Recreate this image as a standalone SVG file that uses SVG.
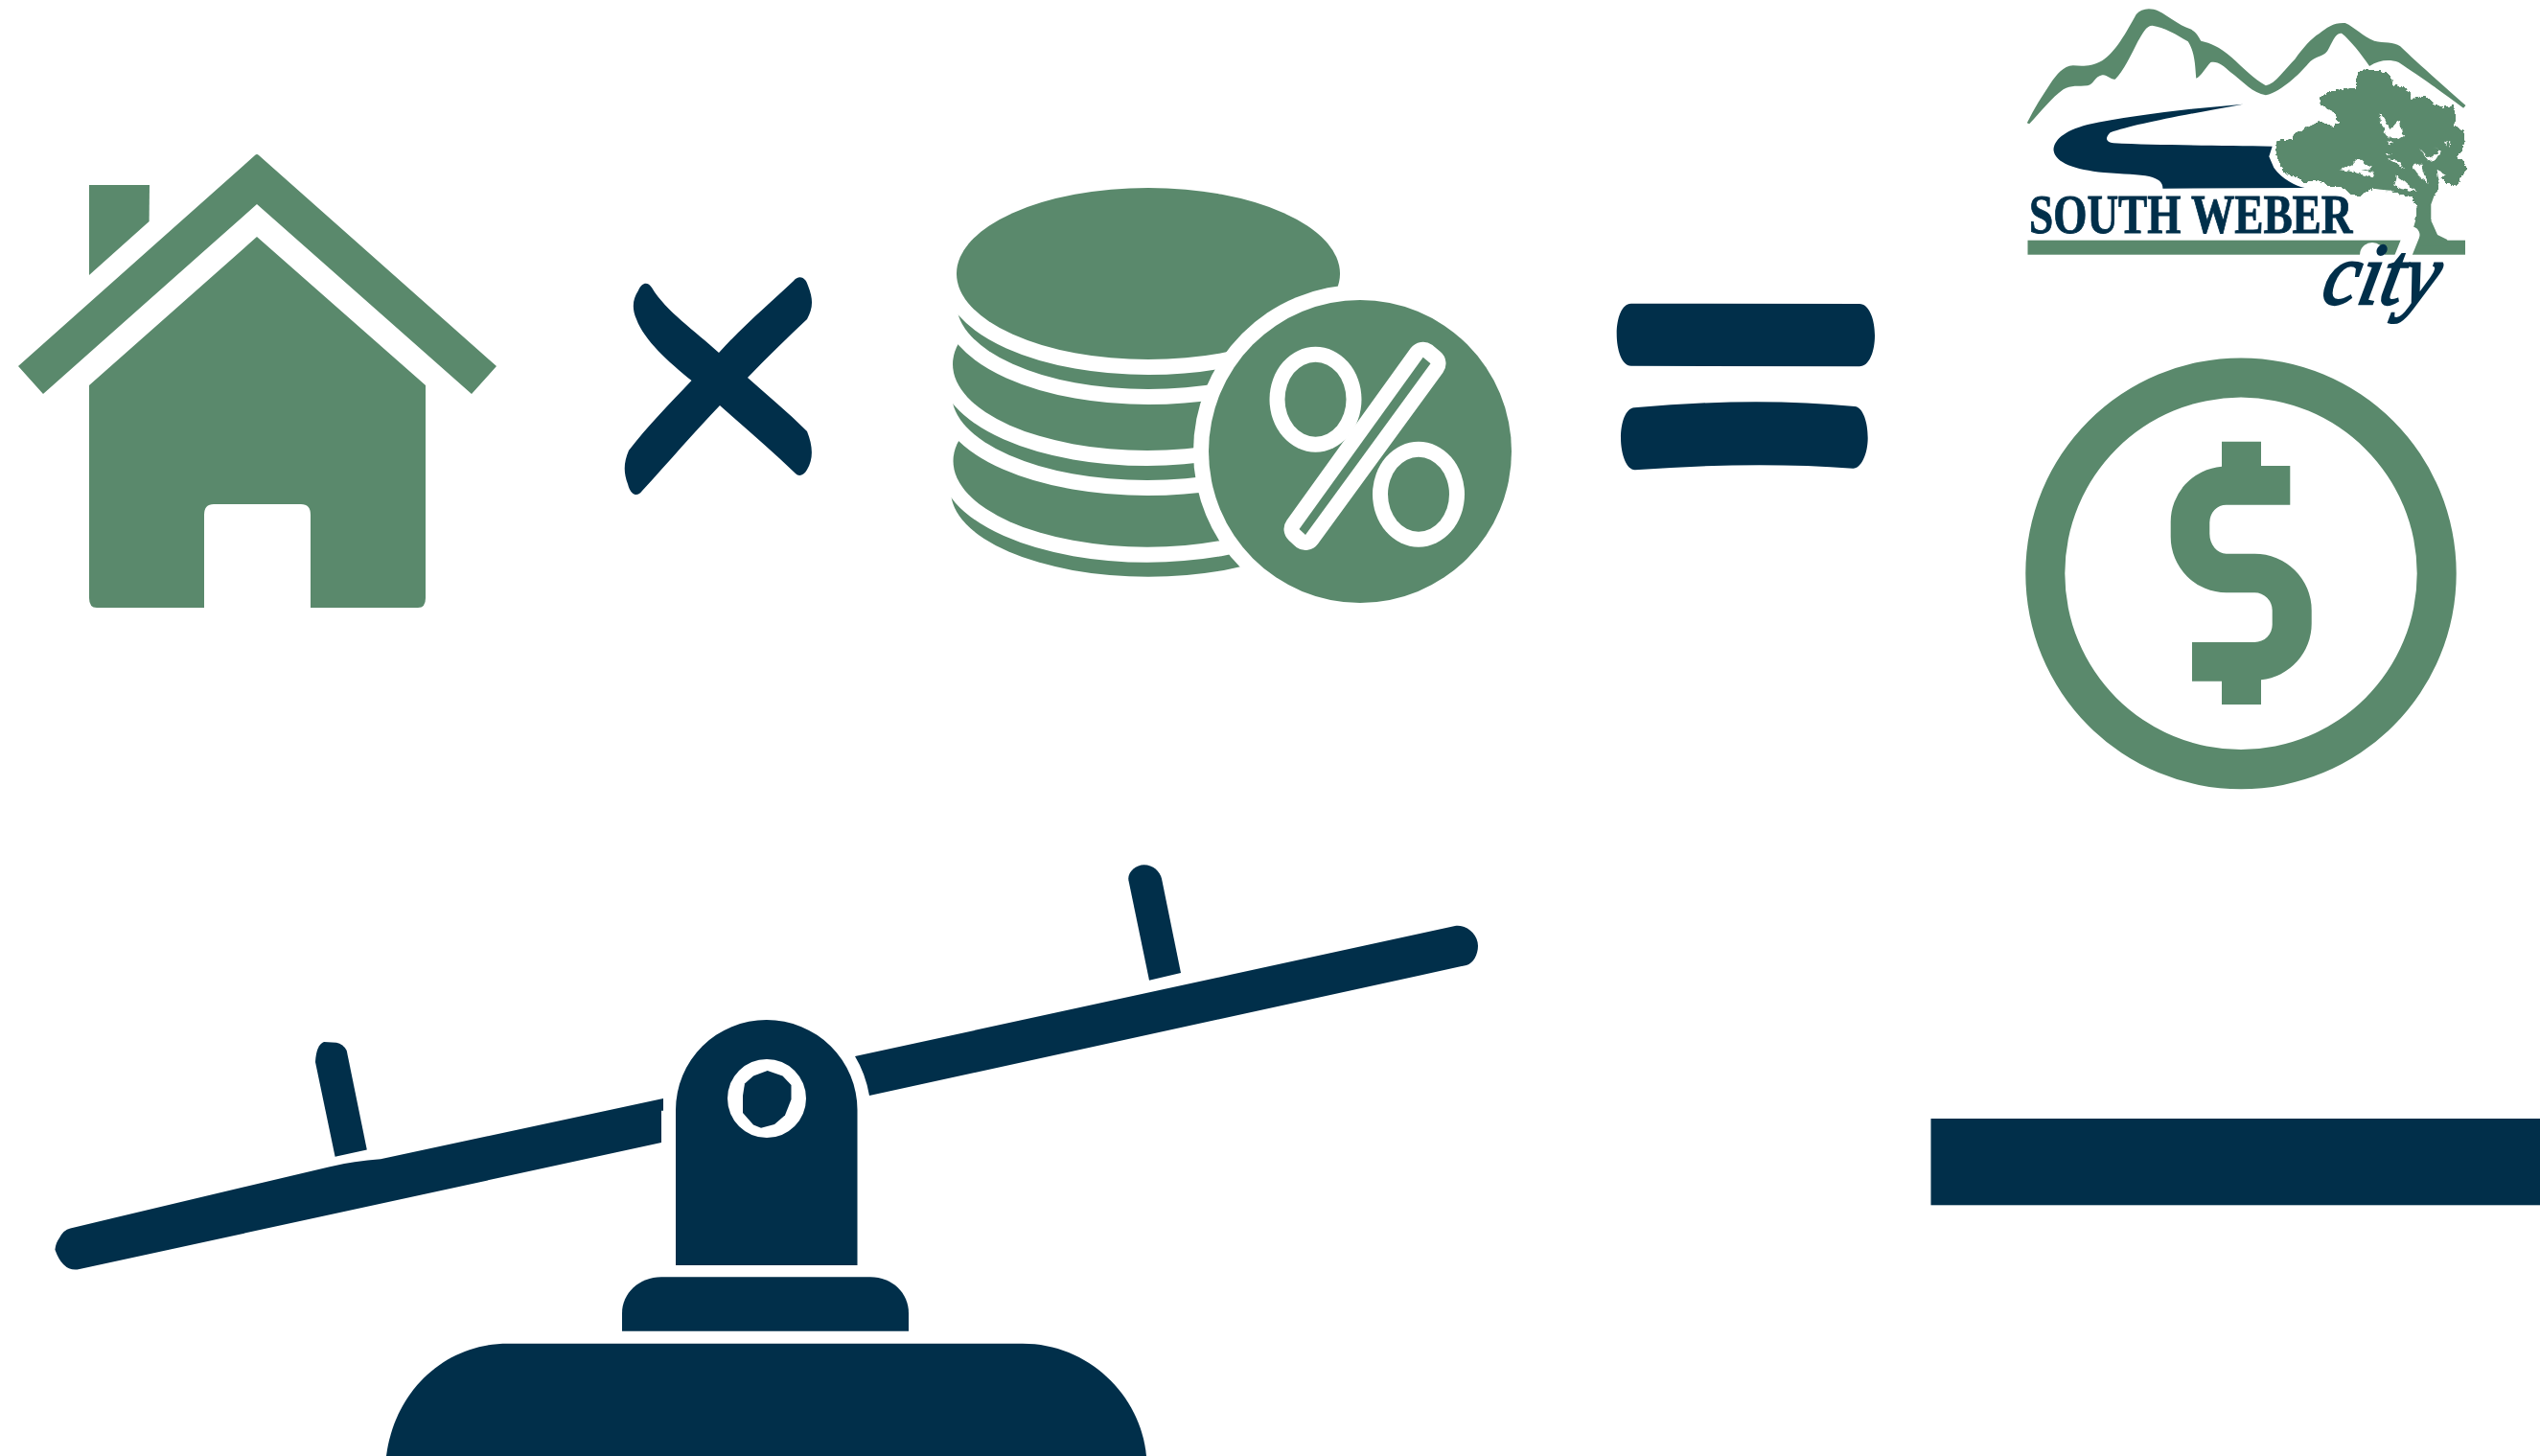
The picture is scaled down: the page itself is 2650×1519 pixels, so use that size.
<svg xmlns="http://www.w3.org/2000/svg" width="2650" height="1519" viewBox="0 0 2650 1519">
<style>
.g{fill:#5a896c}
.n{fill:#012f4a}
.w{fill:#fff}
.halo{fill:#fff;stroke:#fff;stroke-width:32}
.lz1{transform:translate(2080px,0) scale(.338,.3333)}
.lz9{transform:translate(2360px,60px) scale(.3333)}
</style>
<defs>
<filter id="leafy" x="-5%" y="-5%" width="110%" height="110%" color-interpolation-filters="sRGB">
<feTurbulence type="fractalNoise" baseFrequency=".07" numOctaves="2" seed="4" result="t"/>
<feDisplacementMap in="SourceGraphic" in2="t" scale="14" xChannelSelector="R" yChannelSelector="G"/>
<feGaussianBlur stdDeviation="2"/>
<feComponentTransfer><feFuncA type="linear" slope="5" intercept="-2"/></feComponentTransfer>
</filter>
</defs>
<rect width="2650" height="1519" fill="#fff"/>
<g id="house" class="g">
<path d="M266,162 Q268,160 270,162 L518,382 L492,411 L268,213 L45,411 L19,382 Z"/>
<path d="M93,193 H156 L155.600,231 L93,287 Z"/>
<path d="M268,247 L444,402 V624 Q444,634 436,634 H324 V537 Q324,526 314,526 H223 Q213,526 213,537 V634 H101 Q93,634 93,624 V402 Z"/>
</g>
<g id="times" class="n">
<path d="M680,300 C695,325 725,345 750,368 C775,340 805,315 828,293 C833,287 840,288 843,298 C849,313 848,322 842,333 C822,352 800,373 780,394 C800,412 822,430 842,450 C848,465 849,478 842,490 C838,497 833,497 830,494 C805,470 778,447 751,423 C725,450 695,485 670,512 C665,519 658,517 655,505 C650,492 651,482 656,470 C675,445 700,420 721.500,397 C698,378 672,355 664,333 C659,322 660,312 666,303 C670,294 676,294 680,300 Z"/>
</g>
<g id="coins">
<ellipse class="g" cx="1198" cy="512.200" rx="206" ry="89.500"/>
<ellipse class="halo" cx="1197" cy="481" rx="202.500" ry="89.700"/>
<ellipse class="g" cx="1197" cy="481" rx="202.500" ry="89.700"/>
<ellipse class="halo" cx="1197" cy="411.500" rx="204" ry="89.500"/>
<ellipse class="g" cx="1197" cy="411.500" rx="204" ry="89.500"/>
<ellipse class="halo" cx="1197" cy="380" rx="203" ry="90"/>
<ellipse class="g" cx="1197" cy="380" rx="203" ry="90"/>
<ellipse class="halo" cx="1198" cy="316.500" rx="200" ry="89.500"/>
<ellipse class="g" cx="1198" cy="316.500" rx="200" ry="89.500"/>
<ellipse class="halo" cx="1198" cy="285.500" rx="200" ry="89.500"/>
<ellipse class="g" cx="1198" cy="285.500" rx="200" ry="89.500"/>
<circle class="w" cx="1419" cy="471" r="174"/>
<circle class="g" cx="1419" cy="471" r="158"/>
<path d="M1484.700,372.700 L1492.500,379.300 L1362,558 L1355.500,552 Z" fill="#fff" stroke="#fff" stroke-width="32" stroke-linejoin="round"/>
<ellipse class="w" cx="1372.500" cy="416.700" rx="48" ry="55"/>
<ellipse class="g" cx="1372.500" cy="416.700" rx="32" ry="39"/>
<ellipse class="w" cx="1480" cy="515.700" rx="48" ry="55"/>
<ellipse class="g" cx="1480" cy="515.700" rx="32" ry="39"/>
<path class="g" d="M1484.700,372.700 L1492.500,379.300 L1362,558 L1355.500,552 Z"/>
</g>
<g id="equals" class="n">
<path d="M1701.700,316.700 L1940,317 C1950,317 1956,333 1956,350 C1956,367 1950,382.300 1940,382.300 L1701.700,381.700 C1692,381.700 1686.700,365 1686.700,348 C1686.700,332 1692,316.700 1701.700,316.700 Z"/>
<path d="M1705,425.300 Q1830,414 1935,424 C1944,425 1948.700,441 1948.700,456.700 C1948.700,473 1942,488.700 1933.300,488.700 Q1830,481 1705.700,490.300 C1697,490 1691,474 1691,456.700 C1691,441 1696,426 1705,425.300 Z"/>
</g>
<g id="logo">
<path class="n lz1" d="M770,326 C600,340 420,362 290,390 C215,410 185,440 185,470 C190,510 250,530 340,540 C400,545 450,545 480,552 C510,560 522,570 522,590 L960,588 C930,582 890,560 865,525 L850,490 L860,458 C700,455 500,455 370,448 C350,445 340,435 360,415 C430,390 560,365 770,326 Z"/>
<g class="lz9" filter="url(#leafy)">
<path fill="#fff" stroke="#fff" stroke-width="20" stroke-linejoin="round" d="M300,50 L320,36 350,40 385,45 405,60 408,85 440,92 465,110 470,130 510,120 540,145 565,155 600,150 605,180 600,215 630,225 635,260 625,295 608,318 630,320 640,350 620,375 615,395 595,402 570,385 560,375 548,390 550,420 530,435 520,470 530,510 480,510 485,465 470,435 440,430 400,420 350,410 330,420 305,432 280,430 250,405 215,405 180,385 130,390 110,375 70,360 60,340 50,320 42,290 50,260 95,255 100,235 125,230 130,225 180,200 220,215 240,205 225,170 185,150 180,125 205,110 245,100 295,95 295,70 Z"/>
</g>
<path class="g lz1" d="M103,385 C125,340 150,300 175,262 C195,232 215,207 245,205 C270,207 300,210 335,190 C375,165 410,100 440,45 C455,28 480,22 510,35 C540,50 570,78 605,90 C625,98 632,115 640,128 C670,135 695,145 735,180 C770,212 805,248 840,268 C870,262 900,215 930,185 C955,150 980,120 1005,105 C1030,85 1050,70 1085,72 C1115,85 1140,115 1175,128 C1205,135 1235,130 1255,145 C1300,190 1380,260 1457,330 L1450,338 C1390,292 1310,235 1250,195 C1220,185 1190,188 1160,207 C1135,170 1100,125 1075,105 C1055,100 1045,135 1030,160 C1015,180 990,175 970,200 C945,230 890,285 840,298 C800,292 770,255 730,225 C710,205 690,190 670,195 C655,210 640,240 625,245 C622,210 622,165 600,130 C565,108 525,85 490,80 C470,80 460,105 445,130 C425,170 400,225 375,248 C360,250 350,232 335,235 C310,240 310,265 290,268 C260,272 240,265 215,280 C180,305 145,350 110,388 Z"/>
<rect class="g" x="2115.500" y="250.700" width="456.500" height="15"/>
<path class="g lz1" d="M1310,620 L1305,680 1285,750 1285,770 1400,770 1400,750 1370,735 1350,690 1350,640 1375,570 1300,570 Z"/>
<g class="lz9" filter="url(#leafy)">
<path class="g" d="M300,50 L320,36 350,40 385,45 405,60 408,85 440,92 465,110 470,130 510,120 540,145 565,155 600,150 605,180 600,215 630,225 635,260 625,295 608,318 630,320 640,350 620,375 615,395 595,402 570,385 560,375 548,390 550,420 530,435 520,470 530,510 480,510 485,465 470,435 440,430 400,420 350,410 330,420 305,432 280,430 250,405 215,405 180,385 130,390 110,375 70,360 60,340 50,320 42,290 50,260 95,255 100,235 125,230 130,225 180,200 220,215 240,205 225,170 185,150 180,125 205,110 245,100 295,95 295,70 Z"/>
<path class="w" d="M368,172 L385,195 400,225 425,200 432,198 438,240 445,245 430,255 400,250 380,235 385,222 372,205 Z M388,262 L415,265 400,272 Z M390,300 L405,305 392,310 Z M392,315 L425,320 445,350 420,330 Z M470,345 L480,332 498,332 518,392 490,370 Z M492,285 L520,315 545,305 555,290 540,280 560,295 545,320 520,325 Z M570,260 L578,262 578,278 Z M585,262 L592,262 590,280 Z M240,352 L280,335 295,320 310,320 325,335 345,340 330,350 310,352 350,358 345,375 310,365 270,355 Z M548,350 L575,365 555,385 550,365 Z M420,368 L485,420 430,410 412,400 Z M355,412 L420,418 380,420 Z"/>
</g>
<path fill="none" stroke="#fff" stroke-width="17" stroke-linecap="round" d="M2516,245 L2498,290"/>
<circle class="w" cx="2475" cy="266" r="13"/>
<text x="2117" y="243.300" font-family="'Liberation Serif',serif" font-weight="700" font-size="56" textLength="337.500" lengthAdjust="spacingAndGlyphs" class="n" stroke="#012f4a" stroke-width=".9">SOUTH WEBER</text>
<text transform="translate(2420 317) skewX(-12)" font-family="'Liberation Serif',serif" font-style="italic" font-size="92" textLength="120" lengthAdjust="spacingAndGlyphs" class="n" stroke="#012f4a" stroke-width="2.500">city</text>
</g>
<g id="dollar" class="g">
<path fill-rule="evenodd" d="M2113.300,598.300 A224.700,224.700 0 1 1 2562.700,598.300 A224.700,224.700 0 1 1 2113.300,598.300 Z M2154.300,598.300 A183.700,183.700 0 1 0 2521.700,598.300 A183.700,183.700 0 1 0 2154.300,598.300 Z"/>
<path d="M2318,460.700 H2359 V486 H2389.300 V526.700 H2322.700 A17.400,18.300 0 0 0 2305.300,545 V556.700 A17.400,21 0 0 0 2322.700,577.700 H2352.300 A59.400,59 0 0 1 2411.700,636.700 V650.700 A59,59 0 0 1 2359,709.300 V735 H2318 V710.700 H2287 V670 H2352.300 A18.400,18.300 0 0 0 2370.700,651.700 V636.700 A18.400,18.400 0 0 0 2352.300,618.300 H2322.700 A58,58.300 0 0 1 2264.700,560 V545 A58,58 0 0 1 2318,486.700 Z"/>
</g>
<g id="seesaw" class="n">
<path d="M892,1102 L1518,966 C1530,964 1542,975 1542,986.700 C1542,996 1537,1005 1530,1007 L907,1143 Q903,1120 892,1102 Z"/>
<path d="M1177.400,918.300 C1176,910 1185,902.300 1193.500,902.300 C1203,902.300 1210,909 1212,916.700 L1232,1015 L1199,1022.700 Z"/>
<path d="M692,1146 L692,1158.700 L690,1158.700 L690,1192 L83,1324 Q66,1328 57.400,1303.800 Q58,1297 62,1291.600 Q66,1283 73.400,1281.400 L343,1217.400 Q370,1211 397,1209.300 Z"/>
<path d="M349.600,1206.800 L382.800,1199.500 L361.700,1096 Q358,1089 351,1087.800 L338,1087 Q330,1090 329,1108 Z"/>
<path fill-rule="evenodd" d="M705,1320 V1158 A94.750,94 0 0 1 894.500,1158 V1320 Z"/>
<ellipse class="w" cx="800" cy="1146" rx="41" ry="41"/>
<path d="M800.700,1117 L816.500,1122.500 825.500,1132 825.500,1147 819,1163.500 808,1173 794,1176.700 786,1173.500 775,1161 775,1143 777,1130.500 786,1122.500 Z"/>
<path d="M649,1388.700 V1370 C649,1349 667,1332.300 690,1332.300 H908 C931,1332.300 948,1349 948,1370 V1388.700 Z"/>
<path d="M403,1519 C412,1450 465,1401.700 530,1401.700 H1067 C1135,1401.700 1190,1455 1196,1519 Z"/>
</g>
<g id="bar" class="n"><rect x="2014.500" y="1167" width="636" height="90.300"/></g>
</svg>
